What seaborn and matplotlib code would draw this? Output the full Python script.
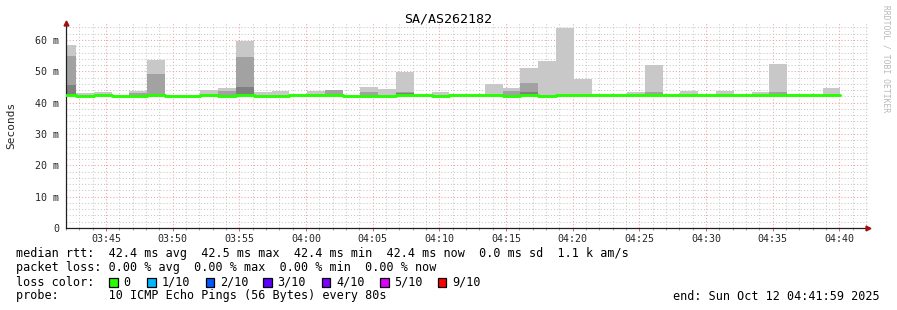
import matplotlib
matplotlib.use("Agg")
import numpy as np
import pandas as pd
import seaborn as sns
import matplotlib.pyplot as plt
import matplotlib.dates as mdates
from matplotlib.ticker import MultipleLocator
from matplotlib.patches import Rectangle

# ---------------- data (ms) ----------------
title = "SA/AS262182"
step_seconds = 80
first_step = "2025-10-12 03:41:25"
median_ms = [42.55, 42.25, 42.55, 42.25, 42.25, 42.55, 42.25, 42.25, 42.55, 42.25,
             42.55, 42.25, 42.25, 42.4, 42.55, 42.55, 42.25, 42.25, 42.25, 42.55,
             42.4, 42.25, 42.4, 42.4, 42.55, 42.2, 42.55, 42.2, 42.55, 42.4,
             42.4, 42.4, 42.4, 42.4, 42.4, 42.4, 42.4, 42.4, 42.4, 42.4,
             42.4, 42.4, 42.4, 42.4]
smoke_max = [58.4, 43.1, 43.4, np.nan, 43.7, 53.7, np.nan, np.nan, 44.0, 44.8,
             59.8, 43.4, 43.8, np.nan, 43.8, np.nan, np.nan, 45.1, 44.4, 49.8,
             np.nan, 43.4, np.nan, np.nan, 46.0, 44.7, 51.1, 53.4, 63.8, 47.6,
             np.nan, np.nan, 43.4, 52.0, np.nan, 43.7, np.nan, 43.7, np.nan, 43.4,
             52.3, np.nan, np.nan, 44.7]
smoke_mid = [54.9, np.nan, np.nan, np.nan, 43.2, 49.0, np.nan, np.nan, np.nan, 43.8,
             54.6, np.nan, np.nan, np.nan, np.nan, 44.1, np.nan, 43.5, np.nan, 43.4,
             np.nan, np.nan, np.nan, np.nan, np.nan, 43.7, 46.3, np.nan, np.nan, np.nan,
             np.nan, np.nan, np.nan, 43.3, np.nan, np.nan, np.nan, np.nan, np.nan, np.nan,
             43.3, np.nan, np.nan, np.nan]
smoke_dark = [45.6, np.nan, np.nan, np.nan, np.nan, np.nan, np.nan, np.nan, np.nan, np.nan,
              45.0, np.nan, np.nan, np.nan, np.nan, np.nan, np.nan, np.nan, np.nan, 43.2,
              np.nan, np.nan, np.nan, np.nan, np.nan, np.nan, 43.4, np.nan, np.nan, np.nan,
              np.nan, np.nan, np.nan, np.nan, np.nan, np.nan, np.nan, np.nan, np.nan, np.nan,
              np.nan, np.nan, np.nan, np.nan]
y_ticks = [0, 10, 20, 30, 40, 50, 60]
y_tick_labels = ["0", "10 m", "20 m", "30 m", "40 m", "50 m", "60 m"]
x_start = "2025-10-12 03:42:00"
x_end = "2025-10-12 04:42:09"

footer_lines = [
    "median rtt:  42.4 ms avg  42.5 ms max  42.4 ms min  42.4 ms now  0.0 ms sd  1.1 k am/s",
    "packet loss: 0.00 % avg  0.00 % max  0.00 % min  0.00 % now",
    "loss color:",
    "probe:       10 ICMP Echo Pings (56 Bytes) every 80s",
]
loss_labels = ["0", "1/10", "2/10", "3/10", "4/10", "5/10", "9/10"]
loss_colors = ["#26ff00", "#00b8ff", "#0059ff", "#5e00ff", "#7e00ff", "#dd00ff", "#ff0000"]
end_text = "end: Sun Oct 12 04:41:59 2025"

# ---------------- figure ----------------
sns.set_theme(style="white")
plt.rcParams["font.family"] = ["DejaVu Sans Mono", "DejaVu Sans"]

W, H = 897, 310
fig = plt.figure(figsize=(W / 100, H / 100), dpi=100)
fig.patch.set_facecolor("white")
ax_l, ax_r, ax_b, ax_t = 66, 868, 228, 23
ax = fig.add_axes([ax_l / W, 1 - ax_b / H, (ax_r - ax_l) / W, (ax_b - ax_t) / H])
ax.set_facecolor("white")

n = len(median_ms)
edges = pd.date_range(first_step, periods=n + 1, freq=f"{step_seconds}s")
med = np.array(median_ms)
med_ext = np.append(med, med[-1])

def ext(arr):
    a = np.array(arr, dtype=float)
    a = np.where(np.isnan(a), med, a)
    return np.append(a, a[-1])

lower = med_ext - 0.3
for arr, col in [(smoke_max, "#c8c8c8"), (smoke_mid, "#a2a2a2"), (smoke_dark, "#808080")]:
    ax.fill_between(edges, lower, ext(arr), step="post", color=col, linewidth=0, zorder=2)

df = pd.DataFrame({"time": edges, "median": med_ext})
sns.lineplot(data=df, x="time", y="median", ax=ax, drawstyle="steps-post",
             color="#26ff00", linewidth=2.1, zorder=3)

ax.set_xlim(pd.Timestamp(x_start), pd.Timestamp(x_end))
ax.set_ylim(0, (ax_b - ax_t) / 3.133)

ax.xaxis.set_major_locator(mdates.MinuteLocator(byminute=range(0, 60, 5)))
ax.xaxis.set_minor_locator(mdates.MinuteLocator())
ax.xaxis.set_major_formatter(mdates.DateFormatter("%H:%M"))
ax.yaxis.set_minor_locator(MultipleLocator(2))
ax.set_yticks(y_ticks)
ax.set_yticklabels(y_tick_labels)

ax.set_axisbelow(True)
ax.grid(which="minor", color="#c8c8c8", linestyle=(0, (1, 2)), linewidth=0.75)
ax.grid(which="major", color="#f2a0a0", linestyle=(0, (1, 2)), linewidth=0.75)

for s in ["top", "right"]:
    ax.spines[s].set_visible(False)
for s in ["left", "bottom"]:
    ax.spines[s].set_color("#202020")
    ax.spines[s].set_linewidth(0.9)

ax.tick_params(axis="x", which="major", length=2, width=0.7, color="#e06060",
               labelsize=7.2, pad=2, direction="out", bottom=True)
ax.tick_params(axis="x", which="minor", length=1.5, width=0.6, color="#909090", bottom=True)
ax.tick_params(axis="y", which="both", length=0, labelsize=7.2, pad=5)
ax.set_xlabel("")
ax.set_ylabel("Seconds", fontsize=8)
ax.yaxis.set_label_coords(-50 / (ax_r - ax_l), 0.5)

# axis arrows
ax.plot([0], [1.0], marker="^", color="#a01010", markersize=3.5, transform=ax.transAxes, clip_on=False, zorder=5)
ax.plot([1.0], [0], marker=">", color="#a01010", markersize=3.5, transform=ax.transAxes, clip_on=False, zorder=5)

# title
fig.text(448 / W, 1 - 19 / H, title, ha="center", va="center", fontsize=9.6, color="black")
# watermark
fig.text(886 / W, 1 - 59 / H, "RRDTOOL / TOBI OETIKER", rotation=-90, ha="center", va="center",
         fontsize=5.8, color="#b8b8b8")

# footer
fs = 8.5
ys = [254, 268, 282, 296]
for line, y in zip(footer_lines, ys):
    fig.text(16 / W, 1 - y / H, line, ha="left", va="center", fontsize=fs, color="black")
box_x = [109, 147, 205.5, 263, 321.5, 380, 437.5]
for bx, lab, col in zip(box_x, loss_labels, loss_colors):
    fig.patches.append(Rectangle((bx / W, 1 - 286.5 / H), 8.5 / W, 8.5 / H, transform=fig.transFigure,
                                 facecolor=col, edgecolor="black", linewidth=0.9))
    fig.text((bx + 14.5) / W, 1 - 282 / H, lab, ha="left", va="center", fontsize=fs, color="black")
fig.text(880 / W, 1 - 296 / H, end_text, ha="right", va="center", fontsize=fs, color="black")

fig.savefig("out.png", dpi=100)
